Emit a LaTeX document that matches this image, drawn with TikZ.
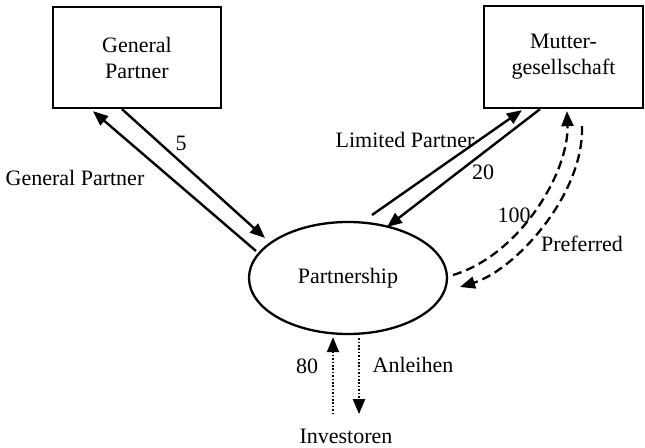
\documentclass[tikz,border=0pt]{standalone}
\usepackage{fontspec}
\setmainfont{Liberation Serif}
\usetikzlibrary{arrows.meta,shapes.geometric,calc}
\newcommand\diagfs{\fontsize{22}{26}\selectfont}
\begin{document}
\begin{tikzpicture}[x=1pt,y=-1pt,
  box/.style={draw,line width=2.3pt,inner sep=0pt,align=center,font=\diagfs},
  oval/.style={draw,ellipse,line width=2.3pt,inner sep=0pt,minimum width=198pt,minimum height=112pt,font=\diagfs},
  lbl/.style={inner sep=0pt,font=\diagfs},
  tip/.style={-{Triangle[length=15pt,width=12pt]}},
  solidarr/.style={tip,line width=2.4pt},
  dasharr/.style={tip,line width=2.3pt,dash pattern=on 9pt off 5pt},
  dotarr/.style={tip,line width=2pt,dash pattern=on 1.6pt off 1.8pt}]
\useasboundingbox (0,0) rectangle (645,447);
\node[box,minimum width=168pt,minimum height=101pt] (gp) at (137,57.5) {General\\Partner};
\node[box,minimum width=159pt,minimum height=102pt] (mg) at (563.5,57) {Mutter-\\gesellschaft};
\node[oval] (pe) at (348,278) {Partnership};
\node[lbl] (inv) at (346,436) {Investoren};
% General Partner arrows
\draw[solidarr] ($(pe.center)+(-92,-27)$) -- ($(gp.south)+(-44,2)$);
\draw[solidarr] ($(gp.south)+(-15,0)$) -- ($(pe.center)+(-83,-40)$);
% Limited partner arrows
\draw[solidarr] ($(pe.center)+(24,-63)$) -- ($(mg.south)+(-41.5,1)$);
\draw[solidarr] ($(mg.south)+(-23.5,0)$) -- ($(pe.center)+(39,-51)$);
% Preferred dashed
\draw[dasharr] ($(pe.center)+(105,-3)$) .. controls (520,255) and (569,172) .. ($(mg.south)+(3.5,2)$);
\draw[dasharr] ($(mg.south)+(18.5,17)$) .. controls (584,195) and (515,270) .. ($(pe.center)+(112,9)$);
% Investoren dotted
\draw[dotarr] ($(pe.south)+(-15,79)$) -- ($(pe.south)+(-15,2)$);
\draw[dotarr] ($(pe.south)+(11,3)$) -- ($(pe.south)+(11,79)$);
% labels
\node[lbl] (l5) at (181,143) {5};
\node[lbl] (lgp) at (75,178) {General Partner};
\node[lbl] (llp) at (405,140) {Limited Partner};
\node[lbl] (l20) at (483,172) {20};
\node[lbl] (l100) at (514,215) {100};
\node[lbl] (lpref) at (582,244) {Preferred};
\node[lbl] (l80) at (307,366) {80};
\node[lbl] (lanl) at (413,365) {Anleihen};
\end{tikzpicture}
\end{document}
